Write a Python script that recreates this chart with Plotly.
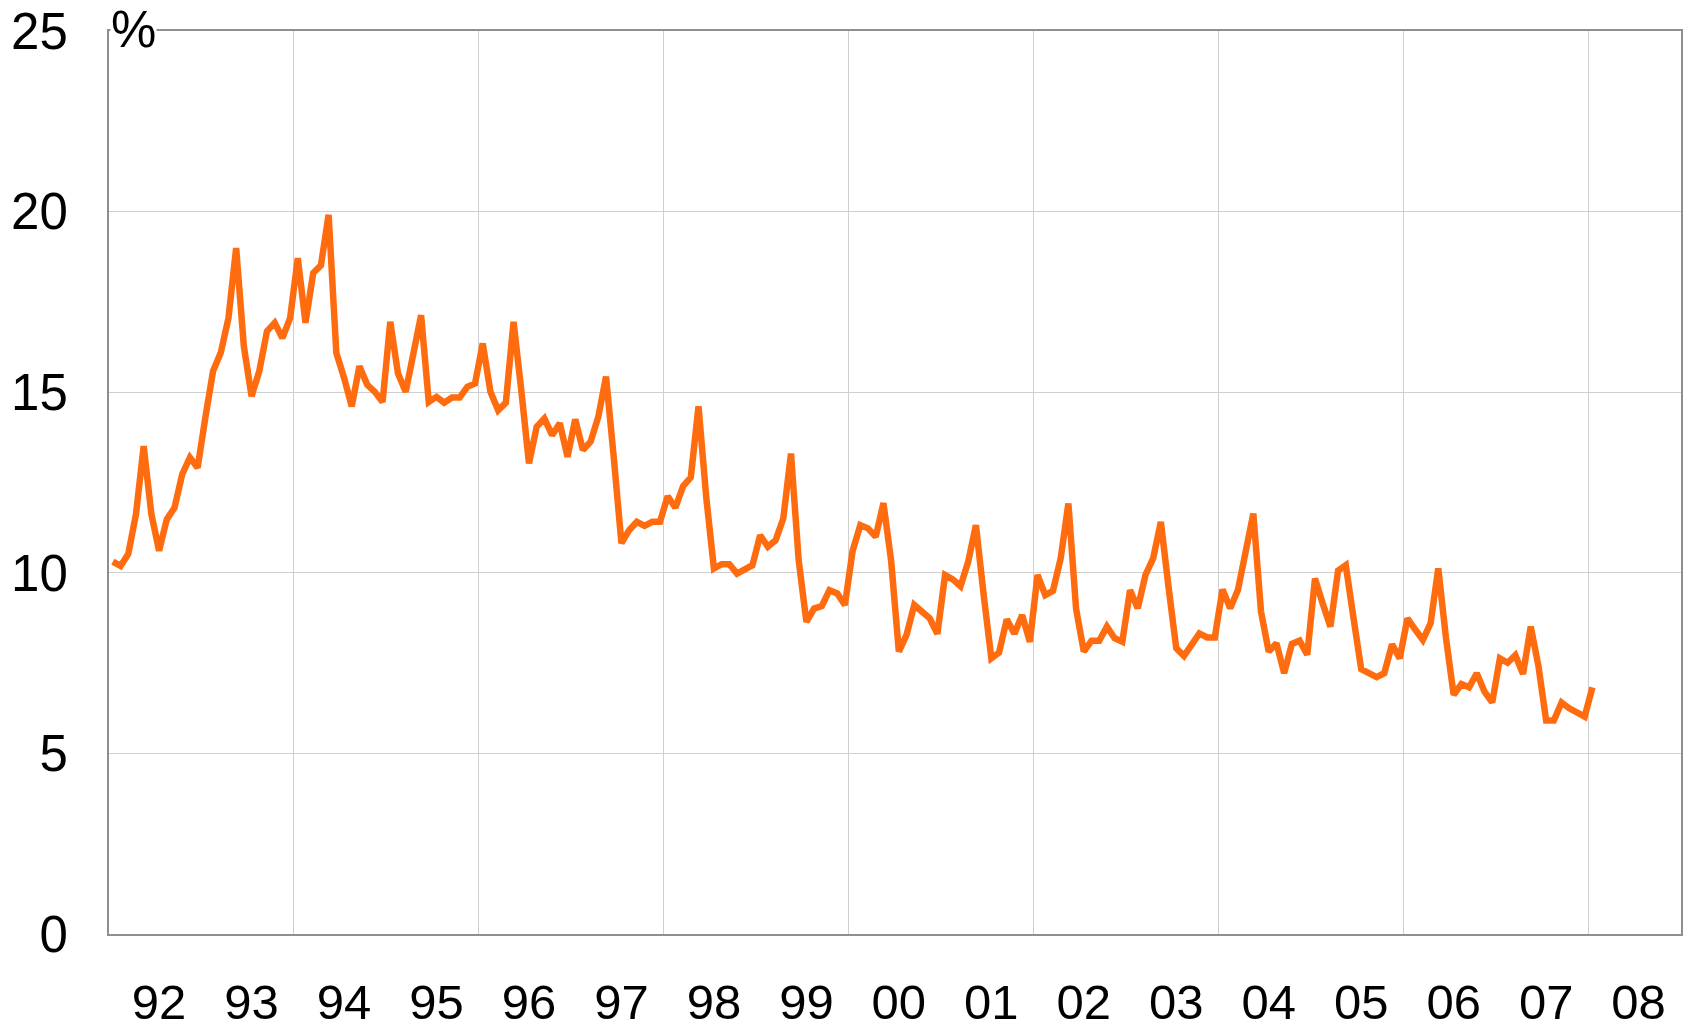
import plotly.graph_objects as go

# Monthly values (%), January 1992 - January 2008
r1992 = [10.31, 10.19, 10.52, 11.62, 13.51, 11.62, 10.61, 11.48, 11.80, 12.73, 13.19, 12.91]
r1993 = [14.29, 15.58, 16.09, 17.05, 18.99, 16.27, 14.89, 15.58, 16.69, 16.92, 16.50, 17.05]
r1994 = [18.71, 16.92, 18.30, 18.51, 19.91, 16.09, 15.40, 14.61, 15.72, 15.21, 15.01, 14.73]
r1995 = [16.95, 15.52, 15.01, 16.01, 17.13, 14.73, 14.87, 14.71, 14.85, 14.85, 15.15, 15.24]
r1996 = [16.35, 15.01, 14.50, 14.71, 16.95, 15.06, 13.03, 14.04, 14.27, 13.81, 14.14, 13.21]
r1997 = [14.25, 13.40, 13.63, 14.32, 15.43, 13.20, 10.82, 11.18, 11.41, 11.30, 11.41, 11.41]
r1998 = [12.12, 11.80, 12.40, 12.64, 14.61, 12.10, 10.12, 10.24, 10.24, 9.98, 10.09, 10.21]
r1999 = [11.04, 10.72, 10.90, 11.50, 13.30, 10.35, 8.64, 9.01, 9.08, 9.52, 9.43, 9.11]
r2000 = [10.61, 11.32, 11.23, 11.00, 11.93, 10.33, 7.82, 8.28, 9.11, 8.92, 8.74, 8.31]
r2001 = [9.94, 9.82, 9.63, 10.31, 11.32, 9.40, 7.63, 7.79, 8.71, 8.31, 8.83, 8.09]
r2002 = [9.94, 9.38, 9.50, 10.40, 11.92, 9.00, 7.82, 8.12, 8.12, 8.51, 8.19, 8.09]
r2003 = [9.52, 9.02, 9.94, 10.40, 11.41, 9.60, 7.91, 7.70, 8.05, 8.32, 8.21, 8.21]
r2004 = [9.54, 9.02, 9.52, 10.67, 11.64, 8.92, 7.82, 8.05, 7.22, 8.03, 8.12, 7.73]
r2005 = [9.84, 9.15, 8.51, 10.06, 10.21, 8.75, 7.33, 7.22, 7.11, 7.22, 8.02, 7.63]
r2006 = [8.74, 8.43, 8.14, 8.60, 10.12, 8.20, 6.62, 6.92, 6.83, 7.22, 6.71, 6.41]
r2007 = [7.63, 7.51, 7.72, 7.20, 8.51, 7.42, 5.91, 5.91, 6.41, 6.25, 6.13, 6.02]
r2008 = [6.83]

years = list(range(1992, 2009))
series_by_year = [r1992, r1993, r1994, r1995, r1996, r1997, r1998, r1999, r2000,
                  r2001, r2002, r2003, r2004, r2005, r2006, r2007, r2008]

year_labels = ["92", "93", "94", "95", "96", "97", "98", "99", "00",
               "01", "02", "03", "04", "05", "06", "07", "08"]
y_ticks = [0, 5, 10, 15, 20, 25]

xs, ys = [], []
for yr, vals in zip(years, series_by_year):
    for m, v in enumerate(vals):
        xs.append(yr + (m + 0.5) / 12.0)
        ys.append(v)

FONT = "Liberation Sans, Arial, Helvetica, sans-serif"
AXIS_COLOR = "#8f8f8f"
GRID_COLOR = "#cfcfcf"
FSIZE = 51
XFSIZE = 49

fig = go.Figure()
fig.add_trace(go.Scatter(
    x=xs, y=ys, mode="lines",
    line=dict(color="#FF6C10", width=6.5, shape="linear"),
    hoverinfo="x+y", showlegend=False,
))

fig.update_layout(
    width=1692, height=1030,
    margin=dict(l=109, r=11, t=31, b=96, autoexpand=False),
    paper_bgcolor="white", plot_bgcolor="white",
    font=dict(family=FONT, size=FSIZE, color="black"),
    xaxis=dict(
        range=[1992, 2009],
        automargin=False,
        tickmode="array",
        tickvals=[y + 6.5 / 12 for y in years],
        ticktext=year_labels,
        ticks="",
        showgrid=False,
        showline=True, linecolor=AXIS_COLOR, linewidth=2, mirror=True,
        zeroline=False,
        ticklabelstandoff=24,
        tickfont=dict(family=FONT, size=XFSIZE, color="black"),
        minor=dict(tick0=1992, dtick=2, showgrid=True,
                   gridcolor=GRID_COLOR, gridwidth=1, ticks=""),
    ),
    yaxis=dict(
        range=[0, 25],
        automargin=False,
        tickmode="array",
        tickvals=y_ticks,
        ticktext=[str(v) for v in y_ticks],
        ticks="",
        showgrid=True, gridcolor=GRID_COLOR, gridwidth=1,
        showline=True, linecolor=AXIS_COLOR, linewidth=2, mirror=True,
        zeroline=False,
        ticklabelstandoff=29,
        tickfont=dict(family=FONT, size=FSIZE, color="black"),
    ),
    annotations=[dict(
        text="%", xref="paper", yref="paper", x=0, y=1,
        xanchor="left", yanchor="middle", xshift=1, yshift=2,
        showarrow=False, bgcolor="white", borderpad=0,
        font=dict(family=FONT, size=FSIZE, color="black"),
    )],
)

fig.write_html("out.html", config={"displayModeBar": False},
               post_script="document.body.style.margin='0px';")
